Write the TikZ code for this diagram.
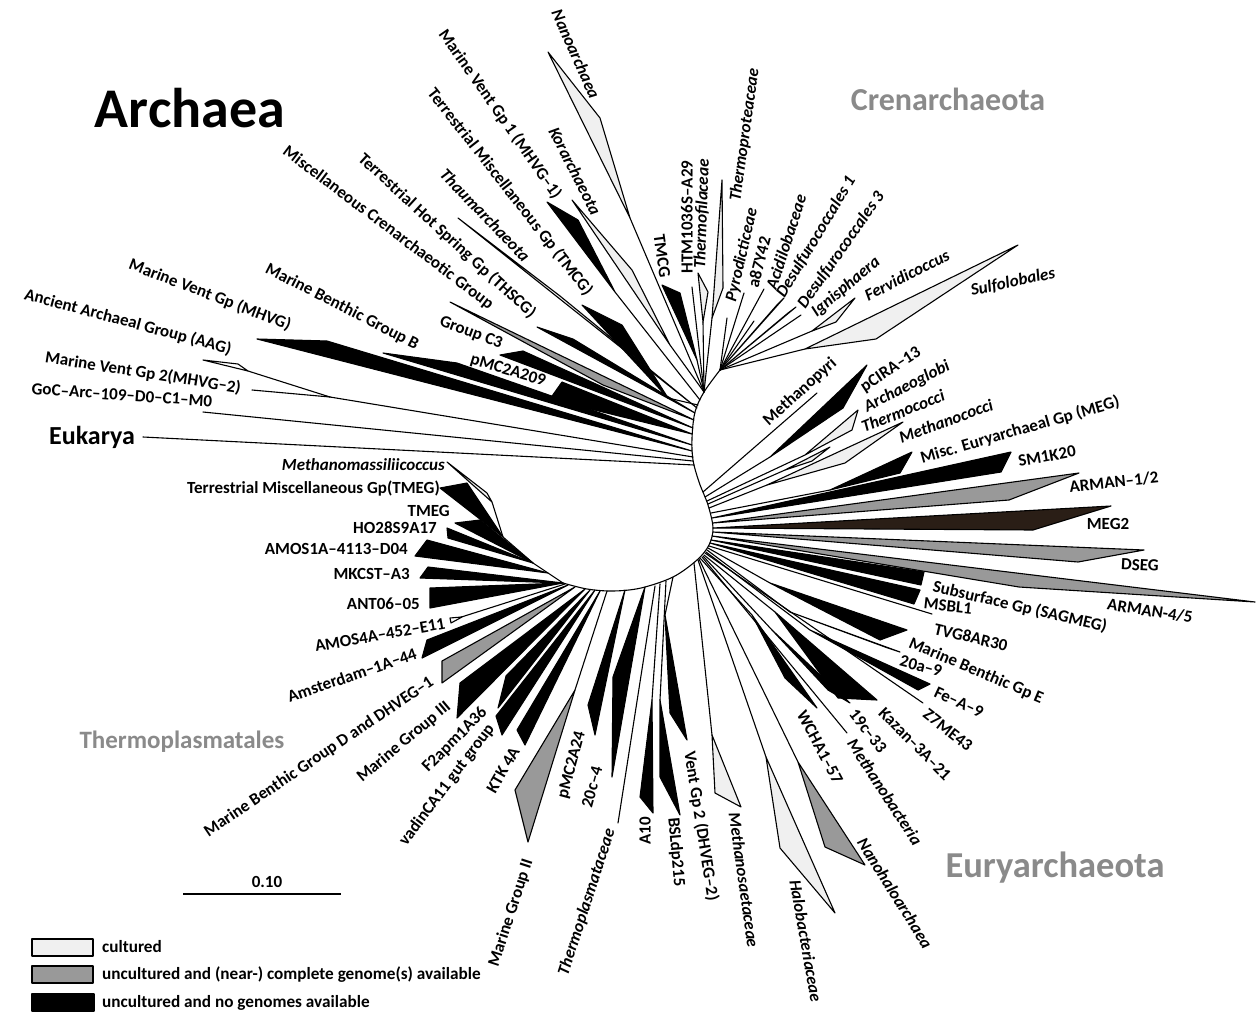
\documentclass[tikz,border=0pt]{standalone}
\usepackage{fontspec}
\setmainfont{Carlito}
\definecolor{cultgray}{RGB}{240,240,240}
\definecolor{genomegray}{RGB}{153,153,153}
\definecolor{megbrown}{RGB}{42,30,22}
\definecolor{titlegray}{RGB}{138,138,138}
\begin{document}
\begin{tikzpicture}[x=1pt,y=-1pt,
  br/.style={line width=1.1pt, line cap=round, line join=round},
  wb/.style={draw=black, line width=1.1pt, line join=round},
  wc/.style={wb, fill=cultgray},
  wg/.style={wb, fill=genomegray},
  wn/.style={wb, fill=black},
  wm/.style={wb, fill=megbrown},
  lb/.style={inner sep=0pt, font=\fontsize{17}{18}\selectfont\bfseries},
  li/.style={inner sep=0pt, font=\fontsize{17}{18}\selectfont\bfseries\itshape},
  lg/.style={inner sep=0pt, anchor=west, font=\fontsize{17.2}{19}\selectfont\bfseries},
  ttl/.style={inner sep=0pt, text=titlegray, font=\bfseries}]
\useasboundingbox (0,0) rectangle (1256,1015);
\fill[white] (0,0) rectangle (1256,1015);

% ---------- junctions ----------
\coordinate (Jc) at (720,370);
\coordinate (Jt) at (704,392);
\coordinate (Ja) at (330,397);
\coordinate (Jm1) at (563,583);
\coordinate (Jm2) at (533,563);
\coordinate (Jm3) at (503,537);
\coordinate (Jm4) at (492,502);

% ---------- backbone ----------
\draw[br] plot[smooth, tension=0.55] coordinates {(720,370) (704,392) (695,412) (692,438) (693,460) (699,482) (708,505) (713,528) (709,545) (697,560) (673,577) (641,588) (613,591) (587,589) (563,583)};
\draw[br] (Jm1) -- (Jm2) -- (Jm3) -- (Jm4);

% ---------- Crenarchaeota ----------
\draw[br] (Jc) -- (727,318);
\draw[br] (Jc) -- (744,293);
\draw[br] (Jc) -- (754,321);
\draw[br] (Jc) -- (764,289);
\path[wb, fill=white] (Jc) -- (784,298) -- (776,306) -- cycle;
\path[wb, fill=white] (Jc) -- (796,307) -- (788,313) -- cycle;
\draw[br] (Jc) -- (801,315);
\draw[br] (Jc) -- (812,331);
\path[wc] (812,331) -- (855,298) -- (836,322) -- cycle;
\draw[br] (Jc) -- (805,349);
\path[wc] (805,349) -- (1018,245) -- (876,339) -- cycle;

% ---------- TACK ----------
\draw[br] (Jt) -- (712,318);
\path[wc] (712,318) -- (722,180) -- (723,288) -- cycle;
\draw[br] (Jt) -- (703,322);
\path[wc] (703,322) -- (698,273) -- (708,292) -- cycle;
\draw[br] (Jt) -- (692,287);
\draw[br] (Jt) -- (697,360);
\path[wn] (697,360) -- (662,285) -- (680,293) -- cycle;
\draw[br] (Jt) -- (630,218);
\path[wc] (630,218) -- (548,52) -- (600,118) -- cycle;
\draw[br] (Jt) -- (670,345);
\path[wc] (670,345) -- (572,200) -- (632,270) -- cycle;

% ---------- upper-left groups ----------
\draw[br] (700,400) -- (615,292);
\path[wn] (615,292) -- (547,202) -- (578,220) -- cycle;
\draw[br] (698,405) -- (668,398);
\path[wn] (668,398) -- (582,305) -- (622,325) -- cycle;
\path[wc] (697,408) -- (458,218) -- (560,296) -- cycle;
\path[wn] (695,413) -- (537,327) -- (573,339) -- cycle;
\path[wg] (694,420) -- (450,302) -- (603,385) -- cycle;
\path[wn] (693,428) -- (500,355) -- (523,351) -- cycle;
\path[wn] (692,434) -- (550,399) -- (562,382) -- cycle;
\path[wn] (692,445) -- (383,353) -- (457,363) -- cycle;
\path[wn] (692,451) -- (257,339) -- (327,341) -- cycle;
\draw[br] (693,457) -- (Ja);
\draw[br] (Ja) -- (248,371);
\path[wb, fill=white] (248,371) -- (203,360) -- (238,364) -- cycle;
\draw[br] (252,390) -- (Ja);
\draw[br] (693,461) -- (203,412);
\draw[br] (694,465) -- (143,437);

% ---------- Euryarchaeota (upper right) ----------
\draw[br] (703,492) -- (817,393);
\draw[br] (705,497) -- (770,457);
\path[wn] (770,457) -- (867,365) -- (843,408) -- cycle;
\draw[br] (707,501) -- (805,455);
\path[wc] (805,455) -- (858,410) -- (852,430) -- cycle;
\draw[br] (708,504) -- (785,470);
\path[wc] (785,470) -- (830,447) -- (812,461) -- cycle;
\draw[br] (709,508) -- (767,485);
\path[wc] (767,485) -- (903,422) -- (845,463) -- cycle;
\draw[br] (711,513) -- (830,490);
\path[wn] (830,490) -- (912,452) -- (900,473) -- cycle;
\path[wn] (712,518) -- (1011,452) -- (1001,472) -- cycle;
\path[wg] (713,523) -- (1079,473) -- (1009,500) -- cycle;
\path[wm] (713,528) -- (1111,506) -- (1033,530) -- cycle;
\path[wg] (713,532) -- (1144,550) -- (1078,562) -- cycle;
\path[wg] (712,536) -- (1255,602) -- (1019,587) -- cycle;
\path[wn] (711,540) -- (921,585) -- (924,572) -- cycle;
\path[wn] (710,543) -- (914,604) -- (920,590) -- cycle;
\draw[br] (709,546) -- (932,614);
\draw[br] (708,548) -- (770,583);
\path[wn] (770,583) -- (907,630) -- (880,640) -- cycle;
\draw[br] (707,550) -- (790,612);
\path[wn] (790,612) -- (900,652) -- (885,647) -- cycle;
\draw[br] (706,552) -- (810,630);
\path[wn] (810,630) -- (930,684) -- (918,690) -- cycle;
\draw[br] (705,553) -- (923,703);
\draw[br] (704,555) -- (775,612);
\path[wn] (775,612) -- (877,700) -- (838,698) -- cycle;
\draw[br] (703,556) -- (772,630);
\path[wn] (772,630) -- (850,703) -- (828,690) -- cycle;
\draw[br] (702,557) -- (847,733);
\draw[br] (700,558) -- (752,615);
\path[wn] (752,615) -- (817,708) -- (785,678) -- cycle;
\draw[br] (699,559) -- (798,762);
\path[wg] (798,762) -- (865,865) -- (825,847) -- cycle;
\draw[br] (698,560) -- (766,757);
\path[wc] (766,757) -- (835,913) -- (780,848) -- cycle;
\draw[br] (694,563) -- (712,735);
\path[wc] (712,735) -- (741,807) -- (715,793) -- cycle;

% ---------- lower groups ----------
\draw[br] (673,577) -- (665,615);
\path[wn] (665,615) -- (687,740) -- (670,713) -- cycle;
\draw[br] (666,581) -- (660,700);
\path[wn] (660,700) -- (680,815) -- (660,777) -- cycle;
\draw[br] (660,584) -- (652,700);
\path[wn] (652,700) -- (653,813) -- (640,797) -- cycle;
\draw[br] (655,586) -- (618,823);
\path[wn] (645,587) -- (612,777) -- (613,677) -- cycle;
\path[wn] (625,590) -- (595,735) -- (588,705) -- cycle;
\draw[br] (607,591) -- (575,690);
\path[wg] (575,690) -- (528,842) -- (515,790) -- cycle;
\path[wn] (600,591) -- (525,745) -- (517,730) -- cycle;
\path[wn] (595,590) -- (502,735) -- (496,716) -- cycle;
\path[wn] (590,590) -- (498,708) -- (506,676) -- cycle;
\path[wn] (585,589) -- (457,718) -- (460,683) -- cycle;
\path[wg] (575,587) -- (442,683) -- (442,661) -- cycle;
\path[wn] (568,585) -- (422,658) -- (427,640) -- cycle;
\draw[br] (565,584) -- (452,620);
\path[wb, fill=white] (462,617) -- (450,618) -- (451,623) -- cycle;
\path[wn] (Jm1) -- (430,608) -- (430,588) -- cycle;
\path[wn] (Jm1) -- (420,578) -- (428,567) -- cycle;
\path[wn] (548,573) -- (415,556) -- (427,540) -- cycle;
\path[wn] (Jm2) -- (448,538) -- (447,528) -- cycle;
\path[wn] (Jm2) -- (455,523) -- (480,520) -- cycle;
\path[wn] (Jm3) -- (440,488) -- (467,483) -- cycle;
\path[wc] (Jm4) -- (447,462) -- (487,493) -- cycle;

% ---------- titles ----------
\node[inner sep=0pt, font=\fontsize{56}{60}\selectfont\bfseries] (tArch) at (190,108) {Archaea};
\node[ttl, font=\fontsize{32}{36}\selectfont\bfseries] (tCren) at (948,99) {Crenarchaeota};
\node[ttl, font=\fontsize{36.5}{40}\selectfont\bfseries] (tEury) at (1055,868) {Euryarchaeota};
\node[ttl, font=\fontsize{25}{28}\selectfont\bfseries] (tThpl) at (182,742) {Thermoplasmatales};
\node[inner sep=0pt, font=\fontsize{26}{28}\selectfont\bfseries] (tEuk) at (92,437) {Eukarya};

% ---------- labels upper / left ----------
\node[li, rotate=-66] (l01) at (576,54) {Nanoarchaea};
\node[lb, rotate=-55] (l02) at (500,114) {Marine Vent Gp 1 (MHVG–1)};
\node[li, rotate=-63] (l03) at (575,171) {Korarchaeota};
\node[lb, rotate=-52] (l04) at (510,192) {Terrestrial Miscellaneous Gp (TMCG)};
\node[li, rotate=-46] (l05) at (485,215) {Thaumarchaeota};
\node[lb, rotate=-42.5] (l06) at (447,236) {Terrestrial Hot Spring Gp (THSCG)};
\node[lb, rotate=-37] (l07) at (388,228) {Miscellaneous Crenarchaeotic Group};
\node[lb, rotate=-27] (l08) at (342,307) {Marine Benthic Group B};
\node[lb, rotate=-21] (l09) at (210,295) {Marine Vent Gp (MHVG)};
\node[lb, rotate=-15] (l10) at (128,322) {Ancient Archaeal Group (AAG)};
\node[lb, rotate=-20] (l11) at (471,333) {Group C3};
\node[lb, rotate=-17] (l12) at (508,371) {pMC2A209};
\node[lb, rotate=-9] (l13) at (143,373) {Marine Vent Gp 2(MHVG–2)};
\node[lb, rotate=-4] (l14) at (122,395) {GoC–Arc–109–D0–C1–M0};

% ---------- labels TACK / Crenarchaeota ----------
\node[lb, rotate=-82] (l15) at (662,256) {TMCG};
\node[lb, rotate=90] (l16) at (687,217) {HTM1036S–A29};
\node[li, rotate=88] (l17) at (702,214) {Thermofilaceae};
\node[li, rotate=82] (l18) at (745,135) {Thermoproteaceae};
\node[li, rotate=77] (l19) at (742,255) {Pyrodicticeae};
\node[lb, rotate=76] (l20) at (759,262) {a87Y42};
\node[li, rotate=72] (l21) at (786,242) {Acidilobaceae};
\node[li, rotate=59] (l22) at (816,237) {Desulfurococcales 1};
\node[li, rotate=55] (l23) at (841,250) {Desulfurococcales 3};
\node[li, rotate=40] (l24) at (846,287) {Ignisphaera};
\node[li, rotate=27] (l25) at (907,275) {Fervidicoccus};
\node[li, rotate=12] (l26) at (1013,282) {Sulfolobales};

% ---------- labels Euryarchaeota right ----------
\node[lb, rotate=42] (l27) at (800,392) {Methanopyri};
\node[lb, rotate=33] (l28) at (891,370) {pCIRA–13};
\node[li, rotate=27] (l29) at (907,387) {Archaeoglobi};
\node[li, rotate=22] (l30) at (903,411) {Thermococci};
\node[li, rotate=20] (l31) at (946,421) {Methanococci};
\node[lb, rotate=16] (l32) at (1020,430) {Misc. Euryarchaeal Gp (MEG)};
\node[lb, rotate=10] (l33) at (1047,456) {SM1K20};
\node[lb, rotate=6] (l34) at (1114,482) {ARMAN–1/2};
\node[lb] (l35) at (1108,524) {MEG2};
\node[lb, rotate=-3] (l36) at (1140,565) {DSEG};
\node[lb, rotate=-9] (l37) at (1150,611) {ARMAN-4/5};
\node[lb, rotate=-13] (l38) at (1020,607) {Subsurface Gp (SAGMEG)};
\node[lb, rotate=-6] (l39) at (948,606) {MSBL1};
\node[lb, rotate=-13] (l40) at (971,637) {TVG8AR30};
\node[lb, rotate=-23] (l41) at (976,671) {Marine Benthic Gp E};
\node[lb, rotate=-15] (l42) at (921,666) {20a–9};
\node[lb, rotate=-25] (l43) at (959,702) {Fe–A–9};
\node[lb, rotate=-38] (l44) at (948,730) {Z7ME43};
\node[lb, rotate=-45] (l45) at (915,744) {Kazan–3A–21};
\node[lb, rotate=-52] (l46) at (868,731) {19c–33};
\node[li, rotate=-57] (l47) at (885,792) {Methanobacteria};
\node[lb, rotate=-62] (l48) at (820,747) {WCHA1–57};
\node[li, rotate=-58] (l49) at (895,893) {Nanohaloarchaea};
\node[li, rotate=-80] (l50) at (806,941) {Halobacteriaceae};
\node[li, rotate=-82] (l51) at (744,880) {Methanosaetaceae};
\node[lb, rotate=-81] (l52) at (701,826) {Vent Gp 2 (DHVEG–2)};
\node[lb, rotate=-85] (l53) at (676,852) {BSLdp215};

% ---------- labels lower ----------
\node[lb, rotate=90] (l54) at (645,831) {A10};
\node[li, rotate=72] (l55) at (587,902) {Thermoplasmataceae};
\node[lb, rotate=75] (l56) at (592,787) {20c–4};
\node[lb, rotate=75] (l57) at (572,765) {pMC2A24};
\node[lb, rotate=72] (l58) at (511,913) {Marine Group II};
\node[lb, rotate=60] (l59) at (503,770) {KTK 4A};
\node[lb, rotate=53] (l60) at (447,785) {vadinCA11 gut group};
\node[lb, rotate=45] (l61) at (455,740) {F2apm1A36};
\node[lb, rotate=40] (l62) at (404,742) {Marine Group III};
\node[lb, rotate=34] (l63) at (319,757) {Marine Benthic Group D and DHVEG–1};
\node[lb, rotate=19] (l64) at (352,675) {Amsterdam–1A–44};
\node[lb, rotate=10] (l65) at (380,635) {AMOS4A–452–E11};
\node[lb, anchor=east] (l66) at (420,604) {ANT06–05};
\node[lb, anchor=east] (l67) at (410,574) {MKCST–A3};
\node[lb, anchor=east] (l68) at (408,549) {AMOS1A–4113–D04};
\node[lb, anchor=east] (l69) at (437,528) {HO28S9A17};
\node[lb, anchor=east] (l70) at (450,511) {TMEG};
\node[lb, anchor=east] (l71) at (440,489) {Terrestrial Miscellaneous Gp(TMEG)};
\node[li, anchor=east] (l72) at (445,465) {Methanomassiliicoccus};

% ---------- scale bar ----------
\coordinate (sbL) at (183,894);
\coordinate (sbR) at (341,894);
\draw[line width=1.3pt] (sbL) -- (sbR);
\node[inner sep=0pt, font=\fontsize{17}{18}\selectfont\bfseries] (sbT) at (267,882) {0.10};

% ---------- legend ----------
\path[wb, line width=1.5pt, fill=cultgray] (32,939) rectangle (93,956);
\path[wb, line width=1.5pt, fill=genomegray] (32,966) rectangle (93,983);
\path[wb, line width=1.5pt, fill=black] (32,994) rectangle (94,1011);
\node[lg] (lg1) at (102,947) {cultured};
\node[lg] (lg2) at (102,975) {uncultured and (near-) complete genome(s) available};
\node[lg] (lg3) at (102,1003) {uncultured and no genomes available};
\end{tikzpicture}
\end{document}
